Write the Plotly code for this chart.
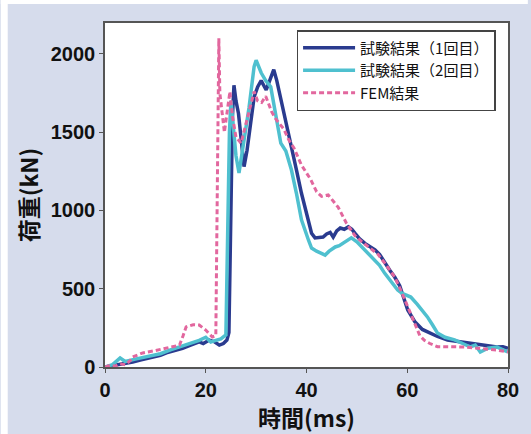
import plotly.graph_objects as go

# ---- data ----
t1 = [0, 2, 4, 5.5, 7, 9, 11, 12.2, 14, 15.4, 17, 18.7, 19.5, 20.7, 21.8, 22.7, 23.5, 24.2, 24.6,
      25.0, 25.3, 25.6, 26.0, 26.5, 27.0, 27.6, 28.2, 29.0, 29.6, 30.3, 31.0, 32.0, 33.0, 33.5, 34.1,
      35.1, 36.1, 37.0, 38.0, 39.0, 40.0, 41.0, 41.7, 42.5, 43.3, 44.0, 44.7, 45.3, 46.0, 46.7, 47.5,
      48.3, 49.0, 49.6, 50.5, 51.6, 52.5, 53.6, 54.5, 55.5, 56.5, 57.5, 58.5, 60.1, 61.5, 63, 64.6,
      66, 68, 70, 72.5, 75, 77.8, 79, 80]
F1 = [0, 10, 20, 32, 45, 60, 75, 90, 105, 120, 140, 160, 150, 172, 160, 140, 150, 172, 220,
      1000, 1600, 1800, 1700, 1620, 1450, 1280, 1385, 1560, 1725, 1790, 1830, 1770, 1850, 1900, 1830,
      1690, 1535, 1405, 1260, 1110, 985, 855, 825, 830, 830, 850, 860, 830, 870, 888, 880,
      895, 880, 855, 820, 790, 770, 748, 720, 665, 620, 575, 520, 364, 290, 240, 217,
      195, 173, 165, 153, 140, 128, 130, 120]

t2 = [0, 1.5, 3, 4, 6, 8.9, 11, 13, 15.4, 17, 18.7, 20, 21, 22, 23, 24.0, 24.3, 24.7, 25.0, 25.5,
      26.0, 26.6, 27.6, 28.6, 29.6, 30.0, 31.0, 31.9, 32.9, 33.9, 34.9, 35.9, 37.0, 38.0, 39.0, 40.4,
      41.0, 42.0, 43.0, 43.7, 44.5, 45.7, 46.5, 47.7, 48.9, 50.0, 51.6, 53.0, 54.5, 55.5, 56.5, 57.3,
      58.1, 59.0, 60.7, 62.0, 63.0, 64.0, 65.0, 66.0, 67.5, 69.4, 71, 72.5, 73.5, 74.5, 76, 77.8,
      79, 80]
F2 = [0, 15, 58, 35, 50, 70, 85, 110, 135, 150, 170, 190, 160, 170, 180, 205, 700, 1500, 1700, 1550,
      1350, 1240, 1450, 1660, 1920, 1960, 1880, 1830, 1790, 1600, 1430, 1380, 1260, 1110, 940, 810,
      760, 740, 725, 715, 740, 767, 775, 800, 825, 800, 748, 700, 650, 600, 560, 530,
      492, 470, 447, 400, 360, 320, 270, 217, 190, 173, 150, 128, 140, 96, 120, 128,
      110, 96]

t3 = [0, 1, 2, 3, 4, 5, 5.5, 7.5, 10, 12.2, 14.8, 15.5, 16.1, 17.5, 18.7, 20, 21.3, 22.0, 22.3,
      22.6, 22.8, 23.2, 23.7, 24.2, 24.8, 25.3, 26.0, 27.0, 28.0, 29.0, 29.6, 30.3, 31.1, 31.9,
      33.1, 34.0, 35.5, 36.5, 37.5, 39.0, 40.8, 42.0, 43.0, 44.3, 45.3, 46.3, 47.9, 49.6, 51.0,
      52.2, 54.2, 55.5, 57.5, 59.0, 60.1, 61.5, 62.5, 63.4, 64.5, 66, 68, 71.3, 74, 77.8, 80]
F3 = [0, 10, 5, 20, 15, 40, 64, 90, 105, 120, 140, 200, 256, 270, 268, 236, 192, 200, 1000,
      2100, 1750, 1650, 1500, 1620, 1760, 1600, 1470, 1430, 1560, 1700, 1760, 1700, 1690, 1730,
      1630, 1580, 1520, 1450, 1400, 1290, 1200, 1120, 1090, 1100, 1060, 1020, 920, 840, 800,
      770, 720, 665, 575, 470, 385, 270, 200, 170, 150, 130, 130, 128, 120, 108, 96]

names = ["試験結果（1回目）", "試験結果（2回目）", "FEM結果"]
x_ticks = [0, 20, 40, 60, 80]
y_ticks = [0, 500, 1000, 1500, 2000]

NAVY = "#2a3b8f"
CYAN = "#4fc0cf"
PINK = "#e2679e"
BG = "#d6dcec"

fig = go.Figure()
fig.add_trace(go.Scatter(x=t1, y=F1, mode="lines", name=names[0],
                         line=dict(color=NAVY, width=3.5)))
fig.add_trace(go.Scatter(x=t2, y=F2, mode="lines", name=names[1],
                         line=dict(color=CYAN, width=3.5)))
fig.add_trace(go.Scatter(x=t3, y=F3, mode="lines", name=names[2],
                         line=dict(color=PINK, width=3, dash="5px,3px")))

W, H = 531, 434
L, R, T, B = 105, 20, 23, 67
pw, ph = W - L - R, H - T - B

def px_to_paper_x(px):
    return (px - L) / pw

def py_to_paper_y(py):
    return (H - B - py) / ph

shapes = [
    # white strips outside the lavender panel
    dict(type="rect", xref="paper", yref="paper", layer="below",
         x0=px_to_paper_x(0), x1=px_to_paper_x(7), y0=py_to_paper_y(H), y1=py_to_paper_y(0),
         fillcolor="white", line=dict(width=0)),
    dict(type="rect", xref="paper", yref="paper", layer="below",
         x0=px_to_paper_x(0), x1=px_to_paper_x(W), y0=py_to_paper_y(4), y1=py_to_paper_y(0),
         fillcolor="white", line=dict(width=0)),
]

tickfont = dict(family="Liberation Sans, Arial", size=20, color="#111", weight="bold")
titlefont = dict(family="Noto Sans CJK JP", size=23, color="#111", weight="bold")

fig.update_layout(
    width=W, height=H,
    margin=dict(l=L, r=R, t=T, b=B, pad=0),
    paper_bgcolor=BG, plot_bgcolor="white",
    shapes=shapes,
    showlegend=True,
    legend=dict(x=px_to_paper_x(298), y=py_to_paper_y(30), xanchor="left", yanchor="top",
                bgcolor="white", bordercolor="#444", borderwidth=1.5,
                font=dict(family="Noto Sans CJK JP", size=15, color="#111"),
                tracegroupgap=0, itemwidth=52),
    xaxis=dict(range=[0, 80], tickvals=x_ticks, ticks="outside", ticklen=4, tickcolor="#555",
               showgrid=False, zeroline=False, showline=True, linecolor="#555", linewidth=1.5,
               mirror=True, tickfont=tickfont,
               title=dict(text="時間(ms)", font=titlefont, standoff=3)),
    yaxis=dict(range=[0, 2198], tickvals=y_ticks, ticks="outside", ticklen=4, tickcolor="#555",
               showgrid=False, zeroline=False, showline=True, linecolor="#555", linewidth=1.5,
               mirror=True, tickfont=tickfont,
               title=dict(text="荷重(kN)", font=titlefont, standoff=6)),
)

fig.write_html("out.html", config={"displayModeBar": False},
               post_script="document.body.style.margin='0';document.body.style.overflow='hidden';")
